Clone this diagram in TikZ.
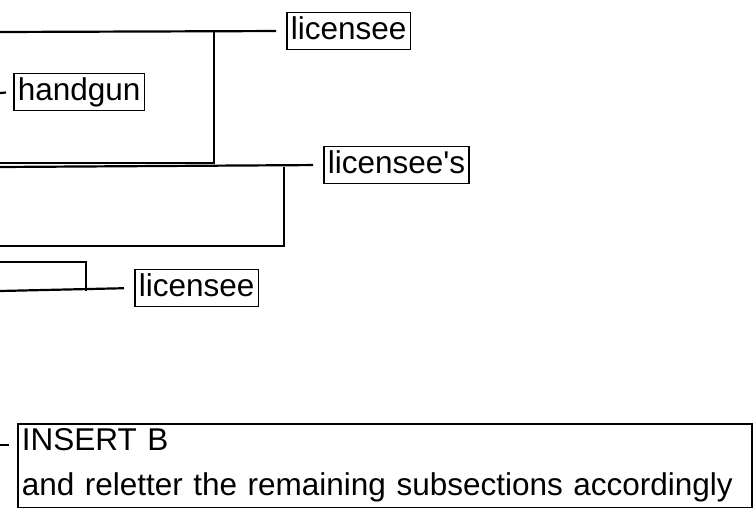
\documentclass[tikz,border=0pt]{standalone}
\usepackage{fontspec}
\setmainfont{Liberation Sans}

\def\lw{2.2pt}

\begin{document}
\begin{tikzpicture}[x=1pt, y=-1pt, line width=\lw,
    every node/.style={font=\fontsize{31.5}{45}\selectfont},
    tag/.style={draw, line width=1.8pt, anchor=west, inner xsep=4pt, inner ysep=3pt, text height=24pt, text depth=7pt},
    lead/.style={shorten >=10pt}]
      \useasboundingbox (0,0) rectangle (753,513);
      % insertion tags
      \node[tag] (lic1) at (286,31) {licensee};
      \node[tag] (gun) at (13,92) {handgun};
      \node[tag] (lic2) at (323,165) {licensee\textquotesingle s};
      \node[tag] (lic3) at (134,288) {licensee};
      \node[draw, line width=1.8pt, anchor=north west, align=left, inner xsep=4pt, inner ysep=5pt, text width=726pt] (ins) at (17,423)
        {INSERT B\\\mbox{and reletter the remaining subsections accordingly}};
      % brackets
      \draw (214,32) -- (214,163) -- (0,163);
      \draw (284,167) -- (284,246) -- (0,246);
      \draw (0,262) -| (86,291);
      % leads to the tags
      \draw[lead] (0,32) -- (lic1.west);
      \draw[shorten >=7pt] (0,93) -- (gun.west);
      \draw[lead] (0,167) -- (lic2.west);
      \draw[lead] (0,291) -- (lic3.west);
      \draw[shorten >=8pt] (0,445) -- (ins.west |- 0,445);
    \end{tikzpicture}
\end{document}
